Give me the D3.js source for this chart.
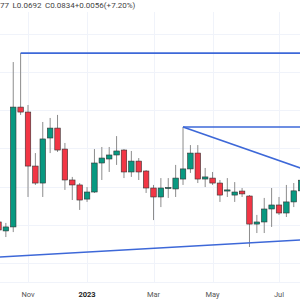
<!DOCTYPE html>
<html lang="en">
	<head>
		<meta charset="utf-8">
		<script src="https://d3js.org/d3.v7.min.js"></script>
		<style>
			body { margin: 0; background: #fff; }
			svg { display: block; font-family: Roboto, "Noto Sans", sans-serif; }
		</style>
	</head>
	<body>
		<script type="text/javascript">

			//Width and height
			var w = 300;
			var h = 300;

			//Weekly candles (Monday of each week)
			var dates = ["2022-10-10","2022-10-17","2022-10-24","2022-10-31","2022-11-07","2022-11-14","2022-11-21","2022-11-28",
						 "2022-12-05","2022-12-12","2022-12-19","2022-12-26","2023-01-02","2023-01-09","2023-01-16","2023-01-23",
						 "2023-01-30","2023-02-06","2023-02-13","2023-02-20","2023-02-27","2023-03-06","2023-03-13","2023-03-20",
						 "2023-03-27","2023-04-03","2023-04-10","2023-04-17","2023-04-24","2023-05-01","2023-05-08","2023-05-15",
						 "2023-05-22","2023-05-29","2023-06-05","2023-06-12","2023-06-19","2023-06-26","2023-07-03","2023-07-10",
						 "2023-07-17","2023-07-24"];
			var open  = [0.0615,0.0568,0.0589,0.1217,0.1191,0.0908,0.0819,0.1055,0.1107,0.0997,0.0835,0.0809,0.0735,0.0772,
						 0.0924,0.0945,0.0966,0.0992,0.0877,0.0934,0.0882,0.0793,0.0746,0.0790,0.0788,0.0840,0.0893,0.0976,
						 0.0840,0.0845,0.0819,0.0777,0.0756,0.0777,0.0751,0.0604,0.0615,0.0683,0.0704,0.0662,0.0720,0.0778];
			var high  = [0.0636,0.0610,0.1453,0.1500,0.1228,0.0976,0.1139,0.1160,0.1176,0.1029,0.0851,0.0819,0.0798,0.0997,
						 0.1008,0.1008,0.1065,0.0997,0.0987,0.0950,0.0887,0.0809,0.0845,0.0845,0.0914,0.1113,0.1018,0.1018,
						 0.0898,0.0877,0.0835,0.0845,0.0824,0.0793,0.0756,0.0652,0.0741,0.0793,0.0746,0.0809,0.0819,0.0877];
			var low   = [0.0552,0.0536,0.0562,0.1176,0.0746,0.0809,0.0746,0.0976,0.0982,0.0783,0.0730,0.0678,0.0720,0.0767,
						 0.0835,0.0877,0.0914,0.0845,0.0851,0.0835,0.0767,0.0625,0.0693,0.0741,0.0746,0.0809,0.0872,0.0819,
						 0.0798,0.0809,0.0720,0.0746,0.0720,0.0746,0.0484,0.0557,0.0557,0.0589,0.0652,0.0641,0.0693,0.0692];
			var close = [0.0573,0.0589,0.1217,0.1191,0.0908,0.0819,0.1050,0.1107,0.0992,0.0835,0.0809,0.0730,0.0772,0.0924,
						 0.0950,0.0966,0.0987,0.0877,0.0934,0.0877,0.0793,0.0746,0.0793,0.0796,0.0845,0.0893,0.0976,0.0840,
						 0.0851,0.0819,0.0756,0.0783,0.0772,0.0762,0.0604,0.0615,0.0683,0.0704,0.0662,0.0720,0.0778,0.0834];

			//Time axis labels
			var tickDates  = ["2022-11-07","2023-01-02","2023-03-06","2023-05-01","2023-07-03"];
			var tickLabels = ["Nov","2023","Mar","May","Jul"];

			//Drawn trend lines: [start date, start price, end date, end price]
			var trendlines = [
				["2022-10-31",0.1500,"2023-07-31",0.1500],
				["2023-04-03",0.1113,"2023-07-31",0.1113],
				["2023-04-03",0.1113,"2023-07-24",0.0896],
				["2022-10-10",0.0431,"2023-07-24",0.0521]
			];

			//Legend as visible in the cropped header
			var legend = [["","77"],["L","0.0692"],["C","0.0834"],["","+0.0056"],["","(+7.20%)"]];

			var parse = d3.timeParse("%Y-%m-%d");

			var candles = dates.map(function(d, i) {
				return { date: parse(d), o: open[i], h: high[i], l: low[i], c: close[i] };
			});

			var x = d3.scaleTime()
					  .domain([parse("2022-11-07"), parse("2023-07-03")])
					  .range([28, 279]);

			var y = d3.scaleLinear()
					  .domain([0.04, 0.16])
					  .range([263, 34]);

			//Create SVG element
			var svg = d3.select("body")
						.append("svg")
						.attr("width", w)
						.attr("height", h);

			//Grid
			svg.append("g")
			   .selectAll("line")
			   .data(y.ticks(6))
			   .enter()
			   .append("line")
			   .attr("x1", 0).attr("x2", w)
			   .attr("y1", function(d) { return Math.round(y(d)) + 0.5; })
			   .attr("y2", function(d) { return Math.round(y(d)) + 0.5; })
			   .style("stroke", "#f0f3fa");

			svg.append("g")
			   .selectAll("line")
			   .data(tickDates)
			   .enter()
			   .append("line")
			   .attr("x1", function(d) { return Math.round(x(parse(d))) + 0.5; })
			   .attr("x2", function(d) { return Math.round(x(parse(d))) + 0.5; })
			   .attr("y1", 12).attr("y2", 282)
			   .style("stroke", "#f0f3fa");

			//Candles
			var bw = 5.5;
			var g = svg.append("g")
					   .selectAll("g")
					   .data(candles)
					   .enter()
					   .append("g");

			g.append("line")
			 .attr("x1", function(d) { return x(d.date); })
			 .attr("x2", function(d) { return x(d.date); })
			 .attr("y1", function(d) { return y(d.h); })
			 .attr("y2", function(d) { return y(d.l); })
			 .style("stroke", "#8c8c8c")
			 .style("stroke-width", 1);

			g.append("rect")
			 .attr("x", function(d) { return x(d.date) - bw / 2; })
			 .attr("width", bw)
			 .attr("y", function(d) { return y(Math.max(d.o, d.c)); })
			 .attr("height", function(d) { return Math.max(1, Math.abs(y(d.o) - y(d.c))); })
			 .style("fill", function(d) { return d.c >= d.o ? "#089981" : "#f23645"; })
			 .style("stroke", "#333")
			 .style("stroke-width", 0.6);

			//Trend lines
			svg.append("g")
			   .selectAll("line")
			   .data(trendlines)
			   .enter()
			   .append("line")
			   .attr("x1", function(d) { return x(parse(d[0])); })
			   .attr("y1", function(d) { return y(d[1]); })
			   .attr("x2", function(d) { return x(parse(d[2])); })
			   .attr("y2", function(d) { return y(d[3]); })
			   .style("stroke", "#3d68d8")
			   .style("stroke-width", 1.6);

			//Time axis
			svg.append("line")
			   .attr("x1", 0).attr("x2", w)
			   .attr("y1", 282.5).attr("y2", 282.5)
			   .style("stroke", "#f0f3fa");

			svg.append("g")
			   .selectAll("text")
			   .data(tickDates)
			   .enter()
			   .append("text")
			   .attr("x", function(d) { return x(parse(d)); })
			   .attr("y", 297)
			   .attr("text-anchor", "middle")
			   .style("font-size", "7.5px")
			   .style("font-weight", function(d, i) { return tickLabels[i] == "2023" ? "bold" : "normal"; })
			   .style("fill", function(d, i) { return tickLabels[i] == "2023" ? "#222" : "#555"; })
			   .text(function(d, i) { return tickLabels[i]; });

			//Legend line
			var lt = svg.append("text")
						.attr("x", 0)
						.attr("y", 8)
						.style("font-size", "8px");

			legend.forEach(function(p, i) {
				lt.append("tspan").attr("dx", i == 0 ? 0 : 3.5).style("fill", "#444").text(p[0]);
				lt.append("tspan").style("fill", "#444").text(p[1]);
			});

		</script>
	</body>
</html>
